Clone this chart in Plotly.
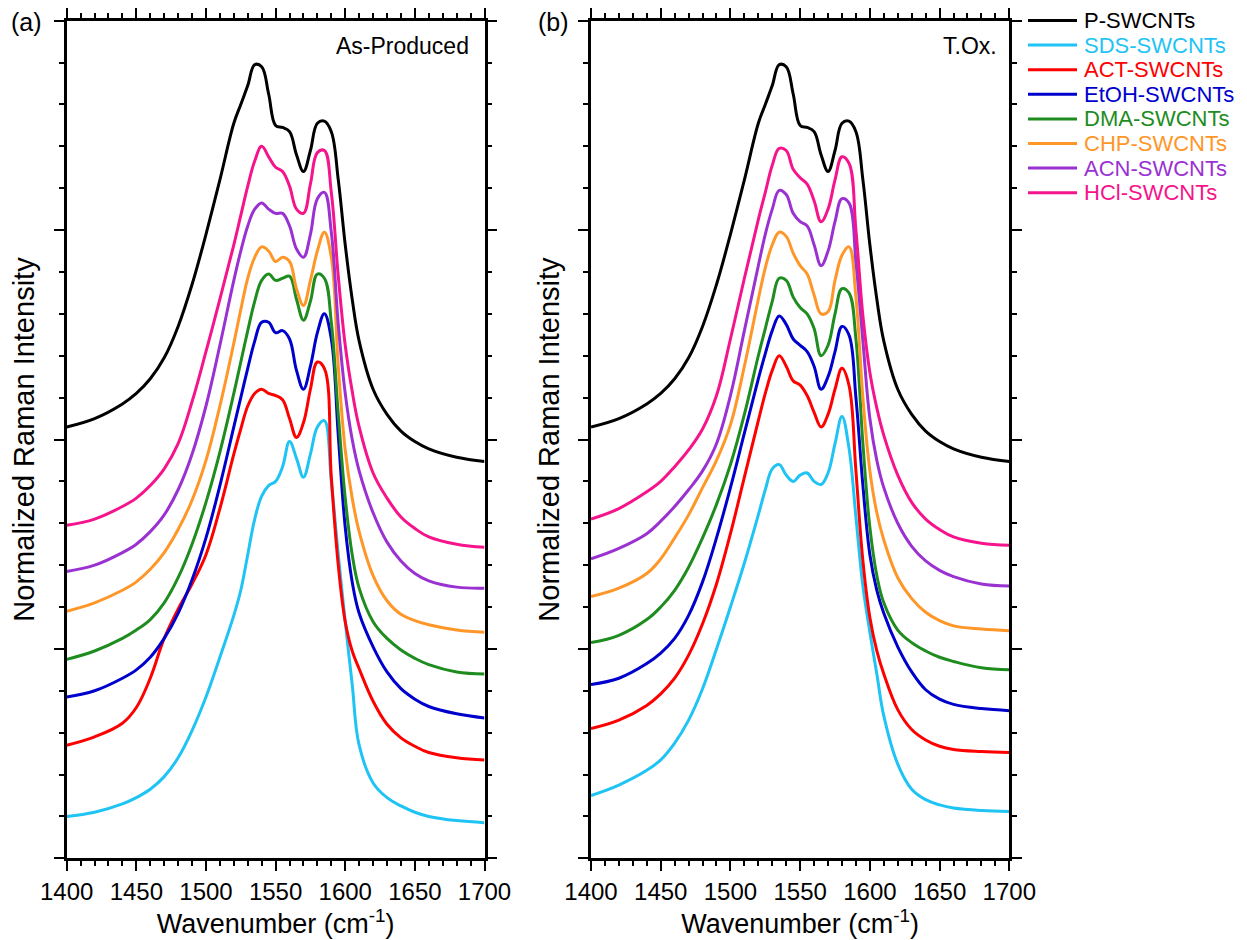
import plotly.graph_objects as go

# ---------------- data ----------------
wavenumber = [1400, 1420, 1440, 1450, 1460, 1470, 1480, 1490, 1500, 1510,
              1520, 1525, 1530, 1535, 1540, 1545, 1550, 1555, 1560, 1565,
              1570, 1575, 1580, 1585, 1590, 1595, 1600, 1605, 1610, 1620,
              1630, 1640, 1650, 1660, 1680, 1700]

series_names = ["P-SWCNTs", "SDS-SWCNTs", "ACT-SWCNTs", "EtOH-SWCNTs",
                "DMA-SWCNTs", "CHP-SWCNTs", "ACN-SWCNTs", "HCl-SWCNTs"]

# pristine reference (same curve in both panels)
p_swcnts = [2.06, 2.10, 2.17, 2.22, 2.29, 2.39, 2.54, 2.74, 2.98, 3.24,
            3.51, 3.60, 3.69, 3.79, 3.78, 3.65, 3.50, 3.49, 3.47, 3.36,
            3.28, 3.38, 3.51, 3.52, 3.47, 3.24, 2.93, 2.67, 2.47, 2.24,
            2.12, 2.04, 1.99, 1.955, 1.915, 1.895]

# (a) As-Produced
a_sds = [0.20, 0.22, 0.26, 0.29, 0.33, 0.39, 0.48, 0.61, 0.77, 0.96,
         1.16, 1.28, 1.45, 1.62, 1.73, 1.78, 1.80, 1.87, 1.99, 1.91,
         1.82, 1.93, 2.06, 2.09, 1.80, 1.45, 1.13, 0.83, 0.54, 0.36,
         0.29, 0.25, 0.22, 0.20, 0.18, 0.17]
a_act = [0.54, 0.58, 0.645, 0.72, 0.86, 1.05, 1.19, 1.31, 1.45, 1.67,
         1.93, 2.05, 2.16, 2.22, 2.24, 2.22, 2.21, 2.19, 2.10, 2.01,
         2.08, 2.24, 2.37, 2.34, 1.82, 1.40, 1.13, 0.99, 0.905, 0.75,
         0.64, 0.575, 0.535, 0.505, 0.48, 0.47]
a_etoh = [0.77, 0.80, 0.86, 0.90, 0.96, 1.05, 1.17, 1.33, 1.53, 1.78,
          2.06, 2.20, 2.34, 2.47, 2.56, 2.56, 2.51, 2.52, 2.48, 2.33,
          2.24, 2.35, 2.51, 2.60, 2.48, 2.02, 1.58, 1.32, 1.17, 1.01,
          0.89, 0.81, 0.76, 0.725, 0.69, 0.67]
a_dma = [0.95, 0.99, 1.05, 1.09, 1.14, 1.22, 1.34, 1.50, 1.70, 1.94,
         2.22, 2.37, 2.52, 2.66, 2.76, 2.79, 2.76, 2.77, 2.78, 2.67,
         2.57, 2.66, 2.79, 2.77, 2.56, 2.12, 1.72, 1.45, 1.29, 1.13,
         1.05, 0.995, 0.955, 0.925, 0.89, 0.88]
a_chp = [1.18, 1.22, 1.28, 1.32, 1.38, 1.46, 1.57, 1.71, 1.90, 2.16,
         2.46, 2.62, 2.77, 2.87, 2.92, 2.90, 2.85, 2.87, 2.85, 2.72,
         2.64, 2.76, 2.90, 2.99, 2.87, 2.35, 1.95, 1.72, 1.56, 1.35,
         1.23, 1.165, 1.135, 1.115, 1.09, 1.08]
a_acn = [1.37, 1.40, 1.46, 1.50, 1.56, 1.64, 1.76, 1.93, 2.16, 2.45,
         2.76, 2.90, 3.02, 3.10, 3.13, 3.10, 3.08, 3.08, 3.02, 2.91,
         2.87, 2.98, 3.15, 3.18, 2.99, 2.55, 2.22, 2.00, 1.85, 1.65,
         1.51, 1.42, 1.36, 1.325, 1.295, 1.29]
a_hcl = [1.59, 1.62, 1.68, 1.72, 1.78, 1.86, 1.98, 2.18, 2.42, 2.67,
         2.93, 3.07, 3.21, 3.33, 3.40, 3.35, 3.30, 3.28, 3.21, 3.10,
         3.08, 3.22, 3.37, 3.38, 3.18, 2.78, 2.45, 2.23, 2.06, 1.84,
         1.72, 1.63, 1.575, 1.535, 1.50, 1.485]

# (b) T.Ox.
b_sds = [0.30, 0.35, 0.42, 0.47, 0.55, 0.66, 0.81, 1.00, 1.20, 1.41,
         1.64, 1.76, 1.86, 1.88, 1.83, 1.80, 1.83, 1.84, 1.80, 1.785,
         1.84, 1.98, 2.11, 1.96, 1.63, 1.30, 1.08, 0.88, 0.68, 0.45,
         0.33, 0.28, 0.255, 0.24, 0.228, 0.223]
b_act = [0.62, 0.66, 0.73, 0.785, 0.86, 0.97, 1.12, 1.31, 1.55, 1.82,
         2.09, 2.22, 2.33, 2.40, 2.35, 2.28, 2.26, 2.21, 2.13, 2.06,
         2.12, 2.24, 2.34, 2.26, 1.85, 1.42, 1.15, 0.99, 0.88, 0.71,
         0.615, 0.565, 0.535, 0.52, 0.51, 0.505]
b_etoh = [0.83, 0.86, 0.93, 0.98, 1.05, 1.16, 1.32, 1.53, 1.77, 2.03,
          2.29, 2.41, 2.52, 2.59, 2.55, 2.48, 2.45, 2.42, 2.35, 2.24,
          2.30, 2.42, 2.54, 2.50, 2.20, 1.78, 1.45, 1.28, 1.17, 1.01,
          0.89, 0.805, 0.76, 0.735, 0.715, 0.705]
b_dma = [1.03, 1.065, 1.14, 1.20, 1.28, 1.39, 1.53, 1.69, 1.88, 2.12,
         2.40, 2.53, 2.66, 2.77, 2.76, 2.68, 2.63, 2.60, 2.53, 2.40,
         2.45, 2.60, 2.72, 2.70, 2.48, 1.98, 1.58, 1.35, 1.22, 1.09,
         1.03, 0.99, 0.96, 0.94, 0.91, 0.90]
b_chp = [1.25, 1.29, 1.36, 1.43, 1.53, 1.64, 1.77, 1.90, 2.07, 2.35,
         2.67, 2.82, 2.93, 2.99, 2.97, 2.89, 2.83, 2.79, 2.69, 2.60,
         2.61, 2.76, 2.88, 2.92, 2.68, 2.20, 1.85, 1.65, 1.52, 1.34,
         1.24, 1.175, 1.135, 1.11, 1.095, 1.087]
b_acn = [1.43, 1.48, 1.55, 1.61, 1.68, 1.76, 1.85, 1.98, 2.21, 2.52,
         2.83, 2.98, 3.10, 3.19, 3.17, 3.08, 3.04, 3.02, 2.93, 2.83,
         2.90, 3.04, 3.15, 3.13, 2.85, 2.47, 2.10, 1.90, 1.77, 1.60,
         1.49, 1.42, 1.375, 1.345, 1.31, 1.30]
b_hcl = [1.62, 1.67, 1.75, 1.80, 1.87, 1.95, 2.05, 2.21, 2.48, 2.77,
         3.05, 3.18, 3.31, 3.39, 3.38, 3.29, 3.25, 3.22, 3.14, 3.04,
         3.10, 3.24, 3.35, 3.32, 3.00, 2.59, 2.32, 2.15, 2.02, 1.83,
         1.70, 1.62, 1.57, 1.535, 1.505, 1.495]

panel_a = [p_swcnts, a_sds, a_act, a_etoh, a_dma, a_chp, a_acn, a_hcl]
panel_b = [p_swcnts, b_sds, b_act, b_etoh, b_dma, b_chp, b_acn, b_hcl]

colors = ["#000000", "#1FC3F4", "#FF0000", "#0000CD",
          "#1E8C1E", "#FF9628", "#9A32D2", "#F5148C"]

# ---------------- figure ----------------
W, H = 1247, 940
FONT = "Liberation Sans, Arial, sans-serif"

fig = go.Figure()
for name, color, ya, yb in zip(series_names, colors, panel_a, panel_b):
    fig.add_trace(go.Scatter(
        x=wavenumber, y=ya, mode="lines", name=name,
        line=dict(color=color, width=3, shape="spline", smoothing=1.1),
        xaxis="x", yaxis="y", hoverinfo="skip", showlegend=False))
    fig.add_trace(go.Scatter(
        x=wavenumber, y=yb, mode="lines", name=name,
        line=dict(color=color, width=3, shape="spline", smoothing=1.1),
        xaxis="x2", yaxis="y2", hoverinfo="skip", showlegend=False))

y_dom = [1 - 858.3 / H, 1 - 20.7 / H]


def xaxis_cfg(domain, anchor):
    return dict(
        domain=domain, anchor=anchor, range=[1400, 1700],
        tick0=1400, dtick=50, ticks="outside", ticklen=10, tickwidth=2,
        tickcolor="black", showline=True, linewidth=2.5, linecolor="black",
        mirror="ticks", showgrid=False, zeroline=False, automargin=False,
        tickfont=dict(family=FONT, size=24, color="black"),
        minor=dict(dtick=10, tick0=1400, ticks="outside", ticklen=5,
                   tickwidth=2, tickcolor="black", showgrid=False),
        title=dict(text="Wavenumber (cm<sup>-1</sup>)",
                   font=dict(family=FONT, size=27, color="black"),
                   standoff=11),
    )


def yaxis_cfg(anchor):
    return dict(
        domain=y_dom, anchor=anchor, range=[0, 4], tick0=0, dtick=1,
        ticks="outside", ticklen=10, tickwidth=2, tickcolor="black",
        showticklabels=False, showline=True, linewidth=2.5,
        linecolor="black", mirror="ticks", showgrid=False, zeroline=False,
        automargin=False,
        minor=dict(dtick=0.2, tick0=0, ticks="outside", ticklen=5,
                   tickwidth=2, tickcolor="black", showgrid=False),
        title=dict(text="Normalized Raman Intensity",
                   font=dict(family=FONT, size=29, color="black"),
                   standoff=11),
    )


# legend drawn as line swatches + coloured labels (as in the reference)
legend_shapes = []
legend_notes = []
for i, (name, color) in enumerate(zip(series_names, colors)):
    yp = 1 - (20.5 + i * 24.6) / H
    legend_shapes.append(dict(type="line", xref="paper", yref="paper",
                              x0=1028 / W, x1=1077 / W, y0=yp, y1=yp,
                              line=dict(color=color, width=3)))
    legend_notes.append(dict(text=name, x=1082 / W, y=yp, xref="paper",
                             yref="paper", showarrow=False, xanchor="left",
                             yanchor="middle",
                             font=dict(family=FONT, size=22, color=color)))

fig.update_layout(
    width=W, height=H,
    margin=dict(l=0, r=0, t=0, b=0),
    paper_bgcolor="white", plot_bgcolor="white",
    font=dict(family=FONT, color="black"),
    xaxis=xaxis_cfg([66.7 / W, 484.5 / W], "y"),
    yaxis=yaxis_cfg("x"),
    xaxis2=xaxis_cfg([591 / W, 1009.3 / W], "y2"),
    yaxis2=yaxis_cfg("x2"),
    showlegend=False,
    shapes=legend_shapes,
    annotations=[
        dict(text="(a)", x=26 / W, y=1 - 22 / H, xref="paper", yref="paper",
             showarrow=False, xanchor="center", yanchor="middle",
             font=dict(family=FONT, size=25, color="black")),
        dict(text="(b)", x=553 / W, y=1 - 22 / H, xref="paper", yref="paper",
             showarrow=False, xanchor="center", yanchor="middle",
             font=dict(family=FONT, size=25, color="black")),
        dict(text="As-Produced", x=471 / W, y=1 - 46 / H, xref="paper",
             yref="paper", showarrow=False, xanchor="right",
             yanchor="middle",
             font=dict(family=FONT, size=23, color="black")),
        dict(text="T.Ox.", x=999 / W, y=1 - 46 / H, xref="paper",
             yref="paper", showarrow=False, xanchor="right",
             yanchor="middle",
             font=dict(family=FONT, size=23, color="black")),
    ] + legend_notes,
)

fig.write_html("out.html",
               config={"displayModeBar": False},
               post_script="document.body.style.margin='0px';")
